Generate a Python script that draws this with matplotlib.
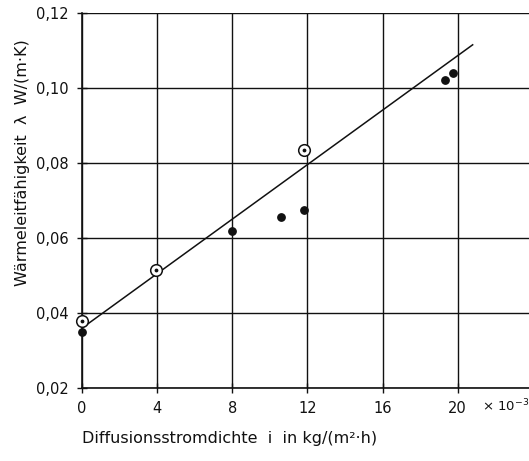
import matplotlib
matplotlib.use("Agg")
import matplotlib.pyplot as plt

plt.rcParams["font.family"] = ["DejaVu Sans"]

# Messwerte (gefüllte Punkte)
x_voll = [0.0, 8.0, 10.6, 11.8, 19.35, 19.75]
y_voll = [0.0350, 0.0620, 0.0655, 0.0675, 0.1020, 0.1040]

# Messwerte (offene Kreise mit Punkt)
x_offen = [0.0, 3.95, 11.8]
y_offen = [0.0378, 0.0516, 0.0835]

# Ausgleichsgerade
x_gerade = [0.0, 20.8]
y_gerade = [0.0360, 0.1115]

x_ticks = [0, 4, 8, 12, 16, 20]
x_ticklabels = ["0", "4", "8", "12", "16", "20"]
y_ticks = [0.02, 0.04, 0.06, 0.08, 0.10, 0.12]
y_ticklabels = ["0,02", "0,04", "0,06", "0,08", "0,10", "0,12"]

fig = plt.figure(figsize=(5.29, 4.61), dpi=100)
ax = fig.add_axes([0.155, 0.158, 0.845, 0.814])

ax.set_xlim(0, 23.8)
ax.set_ylim(0.02, 0.12)

ax.set_xticks(x_ticks)
ax.set_xticklabels(x_ticklabels)
ax.set_yticks(y_ticks)
ax.set_yticklabels(y_ticklabels)
ax.tick_params(direction="inout", length=7, width=1, labelsize=10.5, colors="#111111", pad=6)

ax.grid(True, color="#111111", linewidth=1.0)
ax.set_axisbelow(True)
for spine in ["top", "right"]:
    ax.spines[spine].set_visible(False)
for spine in ["left", "bottom"]:
    ax.spines[spine].set_color("#111111")
    ax.spines[spine].set_linewidth(1.2)

ax.plot(x_gerade, y_gerade, color="#111111", linewidth=1.1, zorder=3)
ax.scatter(x_voll, y_voll, s=28, color="#111111", zorder=4, clip_on=False)
ax.scatter(x_offen, y_offen, s=70, facecolor="white", edgecolor="#111111",
           linewidth=1.1, zorder=4, clip_on=False)
ax.scatter(x_offen, y_offen, s=3, color="#111111", zorder=5, clip_on=False)

ax.text(21.3, 0.0153, "× 10$^{-3}$", fontsize=9.5, ha="left", va="center", color="#111111")

ax.set_xlabel("Diffusionsstromdichte  i  in kg/(m²·h)", fontsize=11.5, color="#111111")
ax.xaxis.set_label_coords(0.33, -0.115)
ax.set_ylabel("Wärmeleitfähigkeit  λ  W/(m·K)", fontsize=11.5, color="#111111")
ax.yaxis.label.set_verticalalignment("center")
ax.yaxis.set_label_coords(-0.134, 0.6)

plt.savefig("out.png", dpi=100)
plt.close(fig)
